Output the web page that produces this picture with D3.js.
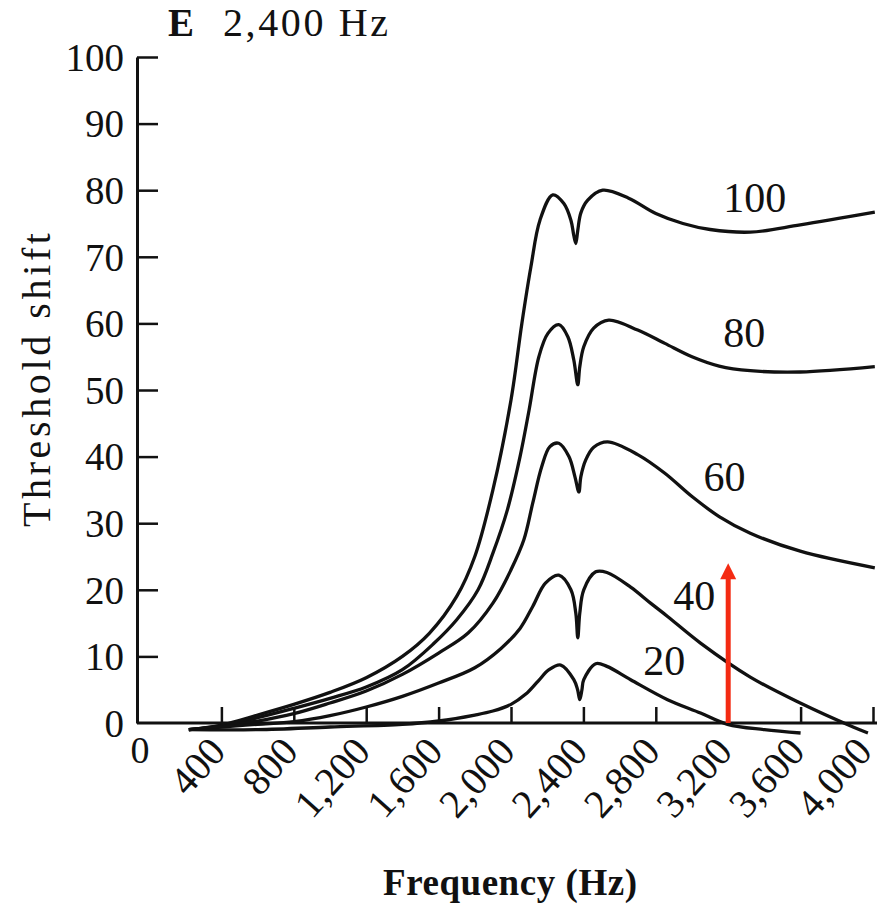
<!DOCTYPE html>
<html>
<head>
<meta charset="utf-8">
<script src="https://cdn.jsdelivr.net/npm/d3@7"></script>
<style>
  body { margin: 0; background: #fff; }
  text { font-family: "Liberation Serif", "Times New Roman", serif; fill: #111; }
</style>
</head>
<body>
<svg width="882" height="904"></svg>
<script>
// masking noise level (dB) for each curve
var levels = ['100', '80', '60', '40', '20'];

// [frequency Hz, threshold shift dB]
var curve100 = [[220,-1],[400,-0.3],[600,1.2],[800,2.8],[1000,4.6],[1200,6.8],[1400,10],[1550,13.5],[1700,19],[1800,25],
  [1900,35],[2000,48.5],[2060,60],[2110,68.5],[2160,75.5],[2231,79.3],[2292,78],[2331,75.5],[2347,73.2],
  [2358,72],[2369,74],[2386,76.6],[2424,78.5],[2507,80],[2650,78.8],[2800,76.5],[2950,75],[3100,74.1],[3322,73.7],[3598,74.8],[4010,76.7]];
var curve80 = [[220,-1],[400,-0.4],[600,0.8],[800,2.2],[1000,3.7],[1200,5.4],[1400,8],[1576,12],[1700,15.5],[1818,20],
  [1900,25.5],[1980,32],[2050,40],[2100,47],[2154,55],[2204,58.5],[2264,59.8],[2314,58],[2347,54.5],
  [2369,50.8],[2380,53.5],[2402,56.5],[2457,59.3],[2540,60.5],[2700,59],[2850,57],[3000,55],[3150,53.6],[3322,52.9],[3598,52.7],[4010,53.5]];
var curve60 = [[220,-1],[400,-0.5],[600,0.3],[800,1.4],[1000,3],[1200,4.8],[1400,7.3],[1600,10.5],[1763,13.5],[1900,18],
  [2000,23],[2071,27.5],[2120,33],[2170,38.5],[2215,41.5],[2264,42],[2320,40],[2353,37],[2375,34.7],[2386,37],
  [2413,39.5],[2457,41.4],[2534,42.2],[2700,40.3],[2850,37.5],[3000,34],[3150,31],[3322,28.5],[3598,25.8],[4010,23.3]];
var curve40 = [[220,-1],[400,-0.6],[600,-0.2],[800,0.2],[1000,1.1],[1200,2.4],[1400,4],[1600,6],[1800,8.3],[1945,11.2],
  [2050,14.2],[2120,17.5],[2190,21],[2264,22.2],[2331,20],[2358,16.5],[2369,12.8],[2380,16.5],[2402,20],
  [2468,22.7],[2530,22.6],[2661,20.4],[2771,18],[2865,16],[3047,12],[3322,6.9],[3598,3],[3890,-0.6],[3972,-1.5]];
var curve20 = [[220,-1],[600,-1],[1000,-0.6],[1400,-0.2],[1600,0.3],[1800,1.2],[1900,1.8],[2000,2.8],[2080,4.3],[2150,6.3],
  [2210,8],[2275,8.7],[2347,6.5],[2368,5],[2380,3.5],[2392,5],[2402,6.5],[2468,8.9],[2530,8.5],[2661,6.5],[2865,3.5],[3047,1.5],
  [3196,-0.2],[3400,-1],[3600,-1.5]];
var curves = [curve100, curve80, curve60, curve40, curve20];

var xTicks = [400, 800, 1200, 1600, 2000, 2400, 2800, 3200, 3600, 4000];
var yTicks = [0, 10, 20, 30, 40, 50, 60, 70, 80, 90, 100];

// probe tone marked by the arrow
var probeFreq = 3200;
var probeTop = 24;

var svg = d3.select('svg');

var xScale = d3.scaleLinear().domain([0, 4000]).range([149, 873]);
var yScale = d3.scaleLinear().domain([0, 100]).range([723, 57]);
var axisX = 137; // the y axis stands a little left of x = 0

// y axis, ticks pointing into the plot
var yAxis = d3.axisLeft(yScale)
  .tickValues(yTicks)
  .tickSizeInner(-21)
  .tickSizeOuter(0)
  .tickPadding(13);

var gy = svg.append('g')
  .attr('transform', 'translate(' + axisX + ',0)')
  .call(yAxis);
gy.select('.domain').attr('stroke', '#111').attr('stroke-width', 3);
gy.selectAll('.tick line').attr('stroke', '#111').attr('stroke-width', 2.5);
gy.selectAll('.tick text')
  .style('font-family', '"Liberation Serif", serif')
  .style('font-size', '39px')
  .attr('fill', '#111')
  .attr('dy', '0.34em');
gy.selectAll('.tick').filter(d => d === 0).select('line').remove();

// x axis, ticks pointing up
var xAxis = d3.axisBottom(xScale)
  .tickValues(xTicks)
  .tickSizeInner(-16)
  .tickSizeOuter(0)
  .tickFormat('');

var gx = svg.append('g')
  .attr('transform', 'translate(0,' + yScale(0) + ')')
  .call(xAxis);
gx.select('.domain').remove();
gx.selectAll('.tick line').attr('stroke', '#111').attr('stroke-width', 2.5);

svg.append('line')
  .attr('x1', axisX).attr('x2', 877)
  .attr('y1', yScale(0)).attr('y2', yScale(0))
  .attr('stroke', '#111').attr('stroke-width', 3);

// rotated frequency labels
svg.append('g').selectAll('text').data(xTicks)
  .enter()
  .append('text')
  .attr('transform', d => 'translate(' + Math.min(xScale(d) + 6, 874) + ',' + (yScale(0) + 30) + ') rotate(-48)')
  .attr('text-anchor', 'end')
  .style('font-size', '40px')
  .text(d => d3.format(',')(d));

svg.append('text')
  .attr('x', axisX + 3).attr('y', yScale(0) + 40)
  .attr('text-anchor', 'middle')
  .style('font-size', '38px')
  .text('0');

// threshold shift curves
var line = d3.line()
  .x(d => xScale(d[0]))
  .y(d => yScale(d[1]))
  .curve(d3.curveCatmullRom.alpha(0.5));

svg.append('g').selectAll('path').data(curves)
  .enter()
  .append('path')
  .attr('d', line)
  .attr('fill', 'none')
  .attr('stroke', '#111')
  .attr('stroke-width', 3.3)
  .attr('stroke-linejoin', 'round');

// curve labels [freq, shift] of the label baseline start
var labelAt = [[3173, 76.7], [3173, 56.5], [3063, 34.8], [2897, 17], [2731, 7.2]];
svg.append('g').selectAll('text').data(levels)
  .enter()
  .append('text')
  .attr('x', (d, i) => xScale(labelAt[i][0]))
  .attr('y', (d, i) => yScale(labelAt[i][1]))
  .style('font-size', '42px')
  .text(d => d);

// red arrow at the probe frequency
var red = '#f42a12';
svg.append('line')
  .attr('x1', xScale(probeFreq)).attr('x2', xScale(probeFreq))
  .attr('y1', yScale(0)).attr('y2', yScale(probeTop) + 12)
  .attr('stroke', red).attr('stroke-width', 5);
svg.append('path')
  .attr('d', 'M' + xScale(probeFreq) + ',' + yScale(probeTop) +
    'l-8,16 l16,0 z')
  .attr('fill', red);

// titles
svg.append('text')
  .attr('x', 168).attr('y', 36)
  .style('font-size', '39px').style('font-weight', 'bold')
  .text('E');
svg.append('text')
  .attr('x', 223).attr('y', 36)
  .style('font-size', '40px')
  .attr('textLength', 165).attr('lengthAdjust', 'spacing')
  .text('2,400 Hz');

svg.append('text')
  .attr('transform', 'translate(50,380) rotate(-90)')
  .attr('text-anchor', 'middle')
  .style('font-size', '40px')
  .attr('textLength', 294).attr('lengthAdjust', 'spacing')
  .text('Threshold shift');

svg.append('text')
  .attr('x', 383).attr('y', 895)
  .style('font-size', '37px').style('font-weight', 'bold')
  .attr('textLength', 254).attr('lengthAdjust', 'spacing')
  .text('Frequency (Hz)');
</script>
</body>
</html>
